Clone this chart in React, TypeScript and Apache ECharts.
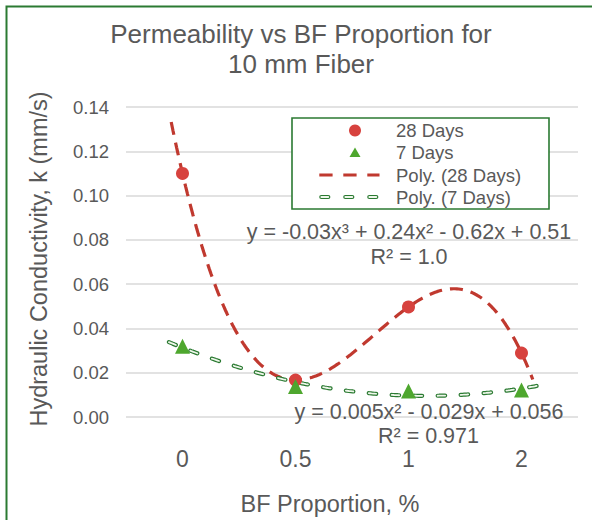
import React, { useEffect, useRef } from "react";
import * as echarts from "echarts";

// ---- data ----
const categories = ["0", "0.5", "1", "2"];
const days28 = [0.11, 0.0167, 0.0497, 0.0289];
const days7 = [0.032, 0.0138, 0.0117, 0.0122];
const yMin = 0;
const yMax = 0.14;
const yInterval = 0.02;
const seriesNames = ["28 Days", "7 Days", "Poly. (28 Days)", "Poly. (7 Days)"];
const eq28Lines = ["y = -0.03x³ + 0.24x² - 0.62x + 0.51", "R² = 1.0"];
const eq7Lines = ["y = 0.005x² - 0.029x + 0.056", "R² = 0.971"];
const titleText = "Permeability vs BF Proportion for\n10 mm Fiber";
const xTitle = "BF Proportion, %";
const yTitle = "Hydraulic Conductivity, k (mm/s)";

// trendline ranges (Excel category index, 1-based) incl. small forecast
const trend28Range = [0.9, 4.1];
const trend7Range = [0.88, 4.2];

const FONT = "Liberation Sans, Arial, sans-serif";
const TXT = "#595959";
const RED = "#D7423E";
const RED_LINE = "#C0392F";
const GREEN = "#4EA72E";
const DARK_GREEN = "#2B7A32";

function polyFit(ys: number[], degree: number): number[] {
  const n = degree + 1;
  const A: number[][] = Array.from({ length: n }, () => new Array(n + 1).fill(0));
  ys.forEach((y, i) => {
    const x = i + 1;
    for (let r = 0; r < n; r++) {
      for (let c = 0; c < n; c++) A[r][c] += Math.pow(x, r + c);
      A[r][n] += Math.pow(x, r) * y;
    }
  });
  for (let col = 0; col < n; col++) {
    let piv = col;
    for (let r = col + 1; r < n; r++) if (Math.abs(A[r][col]) > Math.abs(A[piv][col])) piv = r;
    const tmp = A[col];
    A[col] = A[piv];
    A[piv] = tmp;
    for (let r = 0; r < n; r++) {
      if (r === col) continue;
      const f = A[r][col] / A[col][col];
      for (let c = col; c <= n; c++) A[r][c] -= f * A[col][c];
    }
  }
  return A.map((row, i) => row[n] / row[i]);
}

function trend(ys: number[], degree: number, range: number[]): number[][] {
  const coef = polyFit(ys, degree);
  const pts: number[][] = [];
  const steps = 200;
  for (let s = 0; s <= steps; s++) {
    const x = range[0] + ((range[1] - range[0]) * s) / steps;
    let y = 0;
    coef.forEach((c, k) => (y += c * Math.pow(x, k)));
    pts.push([x - 1, y]);
  }
  return pts;
}

function txt(text: string, x: number, y: number, size: number, extra: any = {}) {
  return {
    type: "text",
    x,
    y,
    z: 100,
    ...extra,
    style: {
      text,
      fontSize: size,
      fontFamily: FONT,
      fill: TXT,
      textAlign: extra.align || "center",
      textVerticalAlign: "middle",
      align: extra.align || "center",
      verticalAlign: "middle",
    },
  };
}

export default function App() {
  const ref = useRef<HTMLDivElement>(null);
  useEffect(() => {
    if (!ref.current) return;
    const chart = echarts.init(ref.current, undefined, { renderer: "svg" });
    const t28 = trend(days28, 3, trend28Range);
    const t7 = trend(days7, 2, trend7Range);

    const legendX = 355;
    const legendTextX = 396;
    const rows = [130.5, 152.5, 175, 197];

    const graphic: any[] = [
      // outer chart border
      {
        type: "rect",
        z: 100,
        shape: { x: 6.5, y: 6.5, width: 700, height: 700 },
        style: { fill: "none", stroke: DARK_GREEN, lineWidth: 2 },
      },
      // legend box
      {
        type: "rect",
        z: 90,
        shape: { x: 292, y: 118, width: 257, height: 91 },
        style: { fill: "#ffffff", stroke: DARK_GREEN, lineWidth: 1.6 },
      },
      {
        type: "circle",
        z: 100,
        shape: { cx: legendX, cy: rows[0], r: 6 },
        style: { fill: RED },
      },
      {
        type: "polygon",
        z: 100,
        shape: {
          points: [
            [legendX, rows[1] - 5],
            [legendX - 5.5, rows[1] + 4.5],
            [legendX + 5.5, rows[1] + 4.5],
          ],
        },
        style: { fill: GREEN },
      },
      {
        type: "line",
        z: 100,
        shape: { x1: 319.3, y1: rows[2], x2: 379.5, y2: rows[2] },
        style: { stroke: RED_LINE, lineWidth: 3.2, lineDash: [13.3, 10.7] },
      },
      {
        type: "line",
        z: 100,
        shape: { x1: 321.3, y1: rows[3], x2: 377.5, y2: rows[3] },
        style: { stroke: DARK_GREEN, lineWidth: 4.2, lineDash: [7, 17], lineCap: "round" },
      },
      {
        type: "line",
        z: 101,
        shape: { x1: 321.3, y1: rows[3], x2: 377.5, y2: rows[3] },
        style: { stroke: "#EEF7EA", lineWidth: 1.8, lineDash: [7, 17], lineCap: "round" },
      },
      ...seriesNames.map((n, i) => txt(n, legendTextX, rows[i], 18.5, { align: "left" })),
      // trendline equations
      txt(eq28Lines[0], 409, 232, 21.5),
      txt(eq28Lines[1], 409, 257, 21.5),
      txt(eq7Lines[0], 429, 411.5, 21.5),
      txt(eq7Lines[1], 428.5, 435.5, 21.5),
      // axis titles
      txt(xTitle, 330, 504, 23.5),
      txt(yTitle, 39, 259, 23.5, { rotation: Math.PI / 2 }),
    ];

    const option: any = {
      animation: false,
      backgroundColor: "#ffffff",
      textStyle: { fontFamily: FONT },
      title: {
        text: titleText,
        left: 301,
        top: 19,
        padding: 0,
        textAlign: "center",
        textStyle: {
          fontSize: 26,
          lineHeight: 30,
          fontWeight: "normal",
          color: TXT,
          fontFamily: FONT,
        },
      },
      grid: { left: 126, right: 14, top: 107, bottom: 103, containLabel: false },
      xAxis: [
        {
          type: "category",
          data: categories,
          boundaryGap: true,
          axisLine: { show: false },
          axisTick: { show: false },
          splitLine: { show: false },
          axisLabel: { color: TXT, fontSize: 23, margin: 30, fontFamily: FONT },
        },
        {
          type: "value",
          min: -0.5,
          max: 3.5,
          show: false,
          splitLine: { show: false },
        },
      ],
      yAxis: {
        type: "value",
        min: yMin,
        max: yMax,
        interval: yInterval,
        axisLine: { show: false },
        axisTick: { show: false },
        axisLabel: {
          color: TXT,
          fontSize: 18.5,
          margin: 17,
          fontFamily: FONT,
          formatter: (v: number) => v.toFixed(2),
        },
        splitLine: { lineStyle: { color: "#D9D9D9", width: 1.5 } },
      },
      series: [
        {
          name: seriesNames[2],
          type: "line",
          xAxisIndex: 1,
          data: t28,
          symbol: "none",
          z: 3,
          lineStyle: { color: RED_LINE, width: 3.2, type: [13, 8] },
        },
        {
          name: seriesNames[3],
          type: "line",
          xAxisIndex: 1,
          data: t7,
          symbol: "none",
          z: 3,
          lineStyle: { color: DARK_GREEN, width: 4.2, type: [7.5, 15.5], cap: "round" },
        },
        {
          name: seriesNames[3] + " inner",
          type: "line",
          xAxisIndex: 1,
          data: t7,
          symbol: "none",
          z: 4,
          lineStyle: { color: "#EEF7EA", width: 1.8, type: [7.5, 15.5], cap: "round" },
        },
        {
          name: seriesNames[0],
          type: "scatter",
          xAxisIndex: 0,
          data: days28,
          symbol: "circle",
          symbolSize: 13,
          z: 5,
          itemStyle: { color: RED, opacity: 1 },
        },
        {
          name: seriesNames[1],
          type: "scatter",
          xAxisIndex: 0,
          data: days7,
          symbol: "triangle",
          symbolSize: 15,
          z: 6,
          itemStyle: { color: GREEN, opacity: 1 },
        },
      ],
      graphic,
    };
    chart.setOption(option);
    return () => chart.dispose();
  }, []);

  return (
    <div
      ref={ref}
      style={{ position: "fixed", left: 0, top: 0, width: 592, height: 520, background: "#fff" }}
    />
  );
}
